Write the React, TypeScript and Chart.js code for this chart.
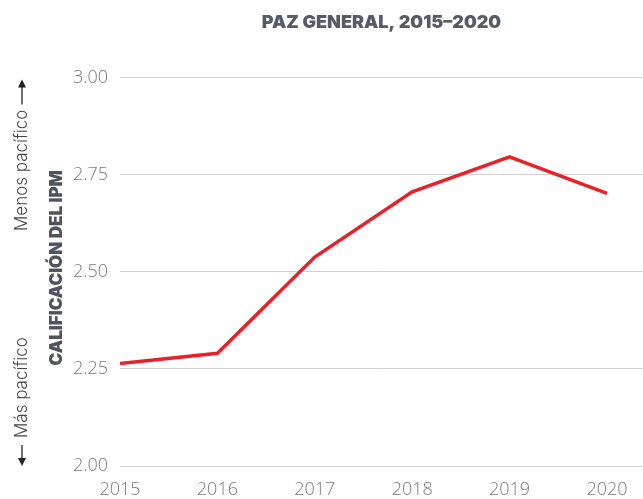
import React, { useEffect, useRef } from "react";
import { Chart, registerables } from "chart.js";

Chart.register(...registerables);

const years = [2015, 2016, 2017, 2018, 2019, 2020];
const scores = [2.264, 2.29, 2.538, 2.706, 2.796, 2.702];
const yTicks = [2.0, 2.25, 2.5, 2.75, 3.0];
const titleText = "PAZ GENERAL, 2015–2020";
const yTitle = "CALIFICACIÓN DEL IPM";
const upLabel = "Menos pacífico";
const downLabel = "Más pacífico";

function arrow(ctx: any, x: number, y0: number, y1: number) {
  // from y0 to y1 with head at y1
  const dir = y1 > y0 ? 1 : -1;
  ctx.beginPath();
  ctx.moveTo(x, y0);
  ctx.lineTo(x, y1 - dir * 6);
  ctx.lineWidth = 1.3;
  ctx.stroke();
  ctx.beginPath();
  ctx.moveTo(x, y1);
  ctx.lineTo(x - 4, y1 - dir * 8);
  ctx.lineTo(x + 4, y1 - dir * 8);
  ctx.closePath();
  ctx.fill();
}

const sidePlugin = {
  id: "sideText",
  afterDraw(chart: any) {
    const ctx = chart.ctx;
    const area = chart.chartArea;
    ctx.save();
    ctx.textBaseline = "middle";
    // bold axis title
    ctx.save();
    ctx.translate(57, (area.top + area.bottom) / 2 - 4);
    ctx.rotate(-Math.PI / 2);
    ctx.textAlign = "center";
    ctx.fillStyle = "#4f545c";
    ctx.font = "900 17px Inter";
    ctx.fillText(yTitle, 0, 0);
    ctx.restore();
    // directional labels
    ctx.fillStyle = "#444444";
    ctx.strokeStyle = "#222222";
    ctx.font = "300 17px Inter";
    ctx.save();
    ctx.translate(22, area.top + 32);
    ctx.rotate(-Math.PI / 2);
    ctx.textAlign = "right";
    ctx.fillText(upLabel, 0, 0);
    ctx.restore();
    ctx.save();
    ctx.translate(22, area.bottom - 28);
    ctx.rotate(-Math.PI / 2);
    ctx.textAlign = "left";
    ctx.fillText(downLabel, 0, 0);
    ctx.restore();
    ctx.fillStyle = "#222222";
    arrow(ctx, 22, area.top + 27, area.top + 2);
    arrow(ctx, 22, area.bottom - 21, area.bottom);
    ctx.restore();
  },
};

export default function App() {
  const ref = useRef<HTMLCanvasElement>(null);
  useEffect(() => {
    const chart = new Chart(ref.current!, {
      type: "line",
      data: {
        datasets: [
          {
            data: years.map((y, i) => ({ x: y, y: scores[i] })),
            borderColor: "#e8202a",
            borderWidth: 3.5,
            pointRadius: 0,
            tension: 0,
          },
        ],
      },
      options: {
        responsive: false,
        animation: false,
        layout: { padding: 0 },
        plugins: {
          legend: { display: false },
          tooltip: { enabled: false },
          title: {
            display: true,
            text: titleText,
            fullSize: false,
            color: "#565b65",
            font: { family: "Inter", size: 18, weight: "900" },
            padding: { top: 12, bottom: 44 },
          },
        },
        scales: {
          x: {
            type: "linear",
            min: 2015,
            max: 2020.37,
            grid: { display: false, drawTicks: false },
            border: { display: false },
            afterBuildTicks: (s: any) => {
              s.ticks = years.map((v) => ({ value: v }));
            },
            afterFit: (s: any) => {
              s.height = 33;
            },
            ticks: {
              padding: 13,
              maxRotation: 0,
              color: "#7a7a7a",
              font: { family: "Open Sans", size: 18, weight: "300" },
              callback: (v: any) => String(v),
            },
          },
          y: {
            min: 2,
            max: 3,
            grid: { color: "#cfcfcf", lineWidth: 1, drawTicks: false },
            border: { display: false },
            afterBuildTicks: (s: any) => {
              s.ticks = yTicks.map((v) => ({ value: v }));
            },
            afterFit: (s: any) => {
              s.width = 120;
            },
            ticks: {
              padding: 12,
              color: "#7a7a7a",
              font: { family: "Open Sans", size: 18, weight: "300" },
              callback: (v: any) => Number(v).toFixed(2),
            },
          },
        },
      },
      plugins: [sidePlugin],
    });
    return () => chart.destroy();
  }, []);
  return (
    <div style={{ position: "absolute", left: 0, top: 0 }}>
      <canvas ref={ref} width={643} height={499} />
    </div>
  );
}
